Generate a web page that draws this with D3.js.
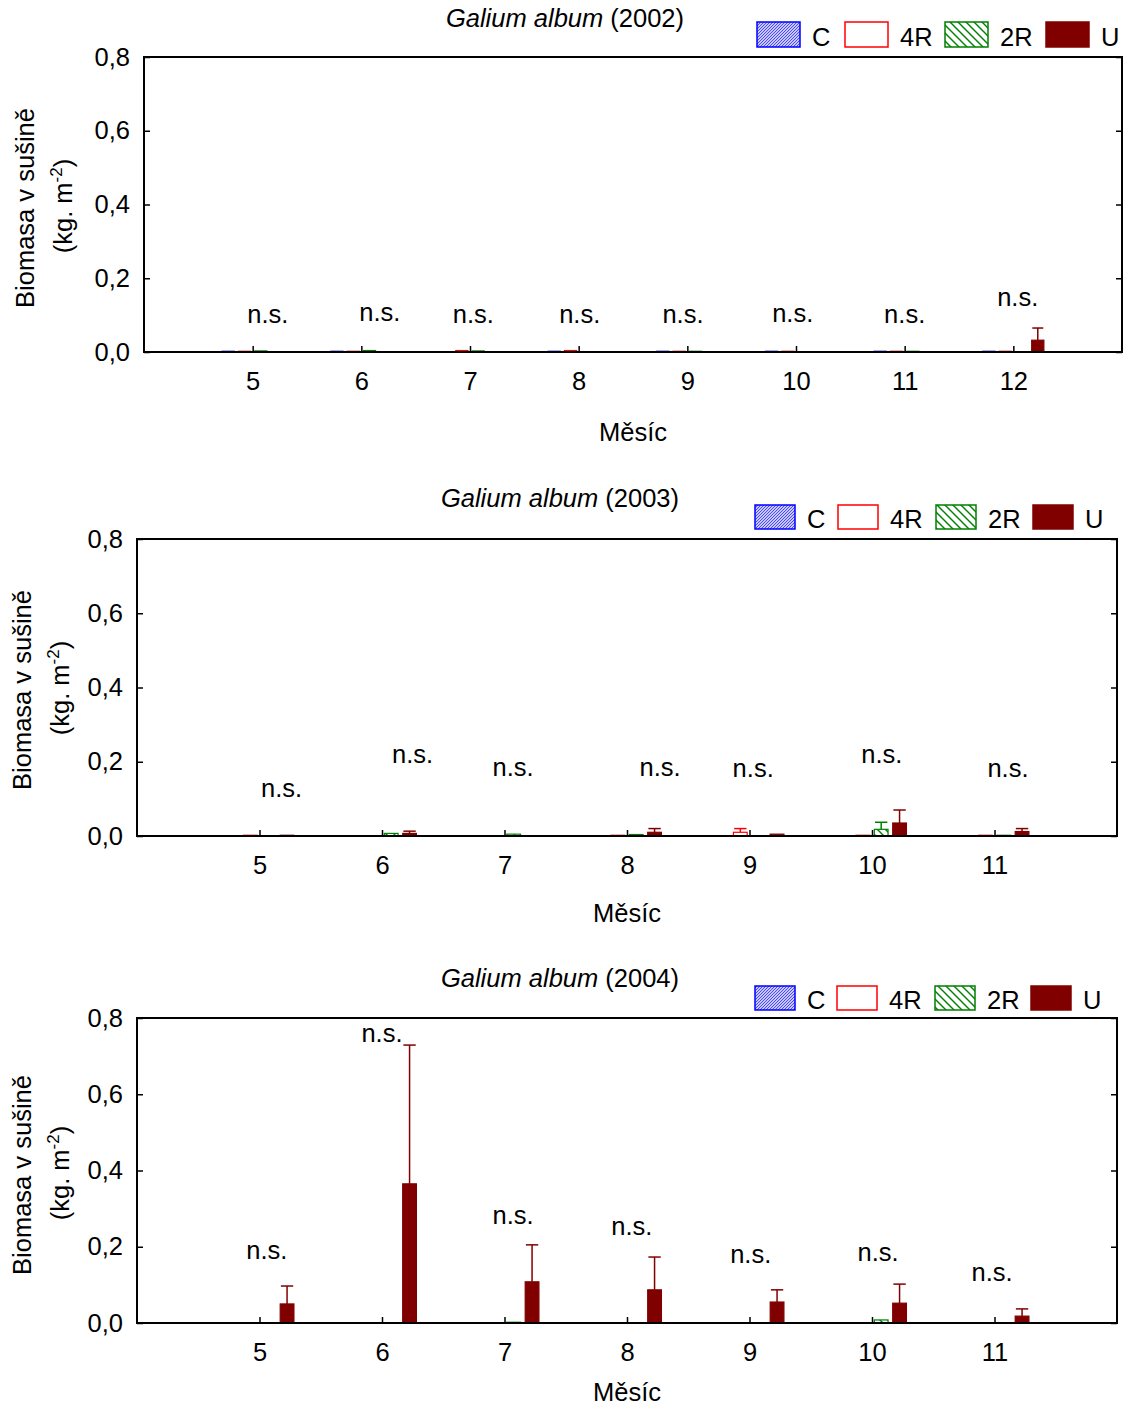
<!DOCTYPE html>
<html>
<head>
<meta charset="utf-8">
<script src="https://cdn.jsdelivr.net/npm/d3@7"></script>
<style>
  body { margin: 0; background: #fff; }
  text { font-family: "Liberation Sans", Arial, sans-serif; fill: #000; }
</style>
</head>
<body>
<script>
// ---- data (kg per m2) ----
const seriesNames = ["C", "4R", "2R", "U"]
const seriesColors = ["#0000ff", "#ff0000", "#008000", "#800000"]
const yTicks = [0, 0.2, 0.4, 0.6, 0.8]

const months2002 = [5, 6, 7, 8, 9, 10, 11, 12]
const c2002 = [0.002, 0.002, 0.001, 0.002, 0.002, 0.002, 0.002, 0.002]
const r4_2002 = [0.002, 0.002, 0.004, 0.004, 0.002, 0.002, 0.002, 0.002]
const r2_2002 = [0.003, 0.004, 0.003, 0.001, 0.002, 0.001, 0.002, 0.001]
const u2002 = [0.001, 0.001, 0.001, 0.001, 0.001, 0.001, 0.001, 0.032]
const uErr2002 = [0, 0, 0, 0, 0, 0, 0, 0.033]
const nsHeight2002 = [0.079, 0.084, 0.079, 0.079, 0.079, 0.082, 0.079, 0.125]
const nsShift2002 = [0.14, 0.17, 0.03, 0.01, -0.04, -0.03, 0, 0.04]

const months2003 = [5, 6, 7, 8, 9, 10, 11]
const c2003 = [0.001, 0.001, 0.001, 0.001, 0.001, 0.001, 0.001]
const r4_2003 = [0.002, 0.001, 0.001, 0.002, 0.01, 0.002, 0.002]
const r4Err2003 = [0, 0, 0, 0, 0.01, 0, 0]
const r2_2003 = [0.001, 0.007, 0.005, 0.004, 0.001, 0.018, 0.002]
const r2Err2003 = [0, 0, 0, 0, 0, 0.019, 0]
const u2003 = [0.002, 0.007, 0.001, 0.01, 0.005, 0.035, 0.012]
const uErr2003 = [0, 0.006, 0, 0.01, 0, 0.035, 0.008]
const nsHeight2003 = [0.105, 0.197, 0.162, 0.162, 0.159, 0.197, 0.159]
const nsShift2003 = [0.18, 0.25, 0.07, 0.27, 0.03, 0.08, 0.11]

const months2004 = [5, 6, 7, 8, 9, 10, 11]
const c2004 = [0.001, 0.001, 0.001, 0.001, 0.001, 0.001, 0.001]
const r4_2004 = [0.001, 0.001, 0.001, 0.001, 0.001, 0.001, 0.001]
const r2_2004 = [0.001, 0.001, 0.002, 0.001, 0.001, 0.008, 0.001]
const u2004 = [0.05, 0.365, 0.108, 0.087, 0.055, 0.052, 0.018]
const uErr2004 = [0.047, 0.364, 0.097, 0.086, 0.032, 0.05, 0.019]
const nsHeight2004 = [0.168, 0.737, 0.26, 0.231, 0.157, 0.163, 0.11]
const nsShift2004 = [0.06, 0, 0.07, 0.04, 0.01, 0.05, -0.02]

const zeros = (n) => new Array(n).fill(0)
const fontSize = 25.5

const panels = [
  { year: 2002, months: months2002, values: [c2002, r4_2002, r2_2002, u2002],
    errors: [zeros(8), zeros(8), zeros(8), uErr2002], nsHeight: nsHeight2002, nsShift: nsShift2002,
    left: 144, right: 1122, top: 57, bottom: 352, titleX: 565, titleY: 27,
    legendTop: 22, legendH: 25, legendW: 43, legendX: [757, 845, 945, 1046], legendGap: 55,
    xLabelY: 441, yLabelCy: 208, yLabelX: 25 },
  { year: 2003, months: months2003, values: [c2003, r4_2003, r2_2003, u2003],
    errors: [zeros(7), r4Err2003, r2Err2003, uErr2003], nsHeight: nsHeight2003, nsShift: nsShift2003,
    left: 137, right: 1117, top: 539, bottom: 836, titleX: 560, titleY: 507,
    legendTop: 505, legendH: 24, legendW: 40, legendX: [755, 838, 936, 1033], legendGap: 52,
    xLabelY: 922, yLabelCy: 690, yLabelX: 22 },
  { year: 2004, months: months2004, values: [c2004, r4_2004, r2_2004, u2004],
    errors: [zeros(7), zeros(7), zeros(7), uErr2004], nsHeight: nsHeight2004, nsShift: nsShift2004,
    left: 137, right: 1117, top: 1018, bottom: 1323, titleX: 560, titleY: 987,
    legendTop: 986, legendH: 24, legendW: 40, legendX: [755, 837, 935, 1031], legendGap: 52,
    xLabelY: 1401, yLabelCy: 1175, yLabelX: 22 }
]

const svg = d3.select("body").append("svg")
  .attr("width", 1132)
  .attr("height", 1407)

// hatch patterns for C and 2R
const defs = svg.append("defs")
const pC = defs.append("pattern").attr("id", "hatchC")
  .attr("patternUnits", "userSpaceOnUse").attr("width", 3).attr("height", 3)
pC.append("rect").attr("width", 3).attr("height", 3).attr("fill", "#c8c8ff")
pC.append("path").attr("d", "M0,3 L3,0 M-1,1 L1,-1 M2,4 L4,2")
  .attr("stroke", "#3a3aff").attr("stroke-width", 0.9)
const p2R = defs.append("pattern").attr("id", "hatch2R")
  .attr("patternUnits", "userSpaceOnUse").attr("width", 8).attr("height", 8)
p2R.append("rect").attr("width", 8).attr("height", 8).attr("fill", "#fff")
p2R.append("path").attr("d", "M0,0 L8,8 M-4,4 L4,12 M4,-4 L12,4")
  .attr("stroke", "#008000").attr("stroke-width", 1.4)

const fills = ["url(#hatchC)", "#fff", "url(#hatch2R)", "#800000"]

panels.forEach((p) => {
  const g = svg.append("g")
  const first = d3.min(p.months) - 1
  const last = d3.max(p.months) + 1
  const x = d3.scaleLinear().domain([first, last]).range([p.left, p.right])
  const y = d3.scaleLinear().domain([0, 0.8]).range([p.bottom, p.top])
  const step = x(1) - x(0)
  const barStep = step * 0.15
  const barW = step * 0.112

  // title
  const title = g.append("text")
    .attr("x", p.titleX).attr("y", p.titleY)
    .attr("text-anchor", "middle").attr("font-size", fontSize)
  title.append("tspan").attr("font-style", "italic").text("Galium album")
  title.append("tspan").text(` (${p.year})`)

  // legend
  seriesNames.forEach((name, i) => {
    g.append("rect")
      .attr("x", p.legendX[i]).attr("y", p.legendTop)
      .attr("width", p.legendW).attr("height", p.legendH)
      .attr("fill", fills[i]).attr("stroke", seriesColors[i]).attr("stroke-width", 1.5)
    g.append("text")
      .attr("x", p.legendX[i] + p.legendGap).attr("y", p.legendTop + p.legendH - 1)
      .attr("font-size", fontSize).text(name)
  })

  // bars + error bars
  seriesNames.forEach((name, si) => {
    const rows = p.months.map((m, i) => ({ m, v: p.values[si][i], e: p.errors[si][i] }))
    const cx = (d) => x(d.m) + (si - 1.5) * barStep
    g.selectAll(null).data(rows).join("rect")
      .attr("x", (d) => cx(d) - barW / 2)
      .attr("y", (d) => y(d.v))
      .attr("width", barW)
      .attr("height", (d) => y(0) - y(d.v))
      .attr("fill", fills[si])
      .attr("stroke", seriesColors[si])
      .attr("stroke-width", 1.2)
    const withErr = rows.filter((d) => d.e > 0)
    g.selectAll(null).data(withErr).join("line")
      .attr("x1", cx).attr("x2", cx)
      .attr("y1", (d) => y(d.v)).attr("y2", (d) => y(d.v + d.e))
      .attr("stroke", seriesColors[si]).attr("stroke-width", 1.5)
    g.selectAll(null).data(withErr).join("line")
      .attr("x1", (d) => cx(d) - barW * 0.45).attr("x2", (d) => cx(d) + barW * 0.45)
      .attr("y1", (d) => y(d.v + d.e)).attr("y2", (d) => y(d.v + d.e))
      .attr("stroke", seriesColors[si]).attr("stroke-width", 1.5)
  })

  // n.s. labels
  g.selectAll(null).data(p.months).join("text")
    .attr("x", (m, i) => x(m + p.nsShift[i]))
    .attr("y", (m, i) => y(p.nsHeight[i]))
    .attr("text-anchor", "middle").attr("font-size", fontSize)
    .text("n.s.")

  // axes (ticks drawn inward)
  g.append("g").attr("transform", `translate(0,${p.bottom})`)
    .call(d3.axisBottom(x).tickValues(p.months).tickSize(-6).tickPadding(20).tickFormat(d3.format("d")))
    .call((a) => a.select(".domain").remove())
    .call((a) => a.selectAll("text").attr("font-size", fontSize).attr("dy", "0.71em"))
  g.append("g").attr("transform", `translate(${p.left},0)`)
    .call(d3.axisLeft(y).tickValues(yTicks).tickSize(-6).tickPadding(14)
      .tickFormat((d) => d3.format(".1f")(d).replace(".", ",")))
    .call((a) => a.select(".domain").remove())
    .call((a) => a.selectAll("text").attr("font-size", fontSize))
  g.append("g").attr("transform", `translate(${p.right},0)`)
    .call(d3.axisRight(y).tickValues(yTicks).tickSize(-6).tickFormat(""))
    .call((a) => a.select(".domain").remove())
  g.selectAll(".tick line").attr("stroke", "#000").attr("stroke-width", 1.5)

  // frame
  g.append("rect")
    .attr("x", p.left).attr("y", p.top)
    .attr("width", p.right - p.left).attr("height", p.bottom - p.top)
    .attr("fill", "none").attr("stroke", "#000").attr("stroke-width", 2)

  // axis titles
  g.append("text")
    .attr("x", (p.left + p.right) / 2).attr("y", p.xLabelY)
    .attr("text-anchor", "middle").attr("font-size", fontSize).text("Měsíc")
  g.append("text")
    .attr("transform", `translate(${p.yLabelX + 9},${p.yLabelCy}) rotate(-90)`)
    .attr("text-anchor", "middle").attr("font-size", fontSize).text("Biomasa v sušině")
  const unit = g.append("text")
    .attr("transform", `translate(${p.yLabelX + 47},${p.yLabelCy - 2}) rotate(-90)`)
    .attr("text-anchor", "middle").attr("font-size", fontSize)
  unit.append("tspan").text("(kg. m")
  unit.append("tspan").attr("font-size", 17).attr("dy", -10).text("-2")
  unit.append("tspan").attr("dy", 10).text(")")
})
</script>
</body>
</html>
